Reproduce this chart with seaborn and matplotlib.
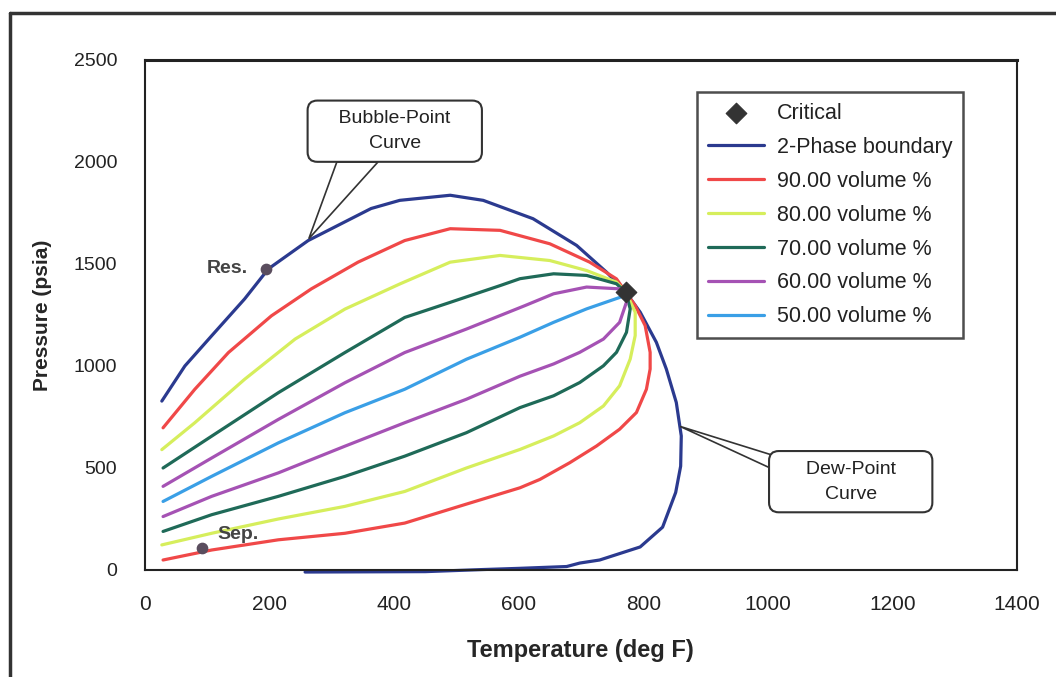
import numpy as np
import pandas as pd
import matplotlib.pyplot as plt
from matplotlib.lines import Line2D
from matplotlib.patches import Polygon
import seaborn as sns

# --- data (Temperature degF, Pressure psia) ---
bubble_T = [27, 64, 107, 160, 198, 262, 363, 409, 490, 543, 623, 693, 741, 772]
bubble_P = [828, 1000, 1148, 1329, 1476, 1615, 1772, 1812, 1837, 1812, 1722, 1591, 1460, 1361]
dew_T = [795, 821, 837, 853, 861, 860, 852, 831, 795, 730, 698, 677, 600, 540, 450, 257]
dew_P = [1264, 1116, 985, 821, 657, 509, 380, 210, 113, 49, 34, 17, 8, 2, -8, -10]

q90_T = [29, 80, 134, 203, 267, 342, 417, 490, 570, 650, 714, 757, 772,
         787, 803, 811, 811, 805, 789, 762, 725, 682, 634, 602, 516, 417, 321, 214, 107, 29]
q90_P = [697, 886, 1066, 1246, 1378, 1509, 1615, 1673, 1665, 1599, 1509, 1427, 1361,
         1296, 1198, 1067, 985, 886, 772, 690, 608, 526, 444, 403, 323, 230, 180, 148, 98, 49]

q80_T = [27, 80, 160, 241, 321, 409, 490, 570, 650, 709, 757, 772,
         787, 787, 779, 762, 736, 698, 656, 602, 516, 417, 321, 214, 107, 27]
q80_P = [590, 722, 935, 1132, 1279, 1402, 1509, 1542, 1517, 1468, 1411, 1361,
         1264, 1149, 1034, 903, 804, 722, 657, 591, 500, 385, 312, 250, 180, 123]

q70_T = [29, 107, 214, 321, 417, 490, 570, 602, 656, 709, 757, 772,
         779, 773, 757, 736, 698, 656, 602, 516, 417, 321, 214, 107, 29]
q70_P = [500, 656, 869, 1066, 1238, 1312, 1394, 1428, 1452, 1444, 1403, 1361,
         1280, 1165, 1067, 1001, 919, 854, 796, 673, 558, 459, 361, 271, 189]

q60_T = [29, 107, 214, 321, 417, 516, 610, 656, 709, 763, 772,
         773, 762, 736, 698, 656, 602, 516, 417, 321, 214, 107, 29]
q60_P = [410, 549, 738, 918, 1066, 1181, 1296, 1354, 1387, 1378, 1361,
         1313, 1214, 1132, 1067, 1010, 950, 837, 722, 607, 476, 361, 262]

q50_T = [29, 107, 214, 321, 417, 516, 602, 656, 709, 763, 772]
q50_P = [336, 459, 623, 771, 886, 1033, 1141, 1214, 1280, 1337, 1361]

critical_T = [772]
critical_P = [1361]
res_T, res_P = [195], [1476]
sep_T, sep_P = [91], [107]

series = [
    ("2-Phase boundary", bubble_T + dew_T, bubble_P + dew_P, "#2b3a8f"),
    ("90.00 volume %", q90_T, q90_P, "#f04848"),
    ("80.00 volume %", q80_T, q80_P, "#d6ee5c"),
    ("70.00 volume %", q70_T, q70_P, "#1f6a58"),
    ("60.00 volume %", q60_T, q60_P, "#a552b4"),
    ("50.00 volume %", q50_T, q50_P, "#3a9fe6"),
]

sns.set_style("white")
plt.rcParams['font.family'] = ['Liberation Sans', 'DejaVu Sans']

fig = plt.figure(figsize=(10.56, 6.77), dpi=100)
ax = fig.add_axes([145 / 1056, 107 / 677, 872 / 1056, 510 / 677])

for name, t, p, c in series:
    df = pd.DataFrame({"T": t, "P": p})
    sns.lineplot(data=df, x="T", y="P", sort=False, estimator=None, color=c,
                 lw=2.3, ax=ax, label=name, clip_on=False)

sns.scatterplot(x=critical_T, y=critical_P, marker="D", s=110, color="#333333",
                edgecolor="#333333", ax=ax, label="Critical", zorder=5)
ax.scatter(res_T + sep_T, res_P + sep_P, s=55, color="#5a4d5e", zorder=5)

ax.text(132, 1476, "Res.", fontsize=14, fontweight="bold", color="#444444",
        ha="center", va="center")
ax.text(149, 172, "Sep.", fontsize=14, fontweight="bold", color="#444444",
        ha="center", va="center")

# callouts: wedge pointer + rounded box
box = dict(boxstyle="round,pad=0.5", fc="white", ec="#333333", lw=1.5)
ax.add_patch(Polygon([(308, 2000), (374, 2000), (263, 1624)], closed=True,
                     fc="white", ec="#333333", lw=1.2, zorder=3))
ax.text(401, 2151, "    Bubble-Point    \nCurve", ha="center", va="center",
        multialignment="center", linespacing=1.6, fontsize=14, color="#222222",
        bbox=box, zorder=4)
ax.add_patch(Polygon([(1020, 551), (1020, 477), (859, 704)], closed=True,
                     fc="white", ec="#333333", lw=1.2, zorder=3))
ax.text(1133, 433, "     Dew-Point     \nCurve", ha="center", va="center",
        multialignment="center", linespacing=1.6, fontsize=14, color="#222222",
        bbox=box, zorder=4)

ax.set_xlim(0, 1400)
ax.set_ylim(0, 2500)
ax.set_xticks(range(0, 1401, 200))
ax.set_yticks(range(0, 2501, 500))
ax.tick_params(direction="inout", length=10, width=1.3, color="#222222",
               labelcolor="#222222")
ax.tick_params(axis="x", labelsize=15, pad=13)
ax.tick_params(axis="y", labelsize=14, pad=15)
for s in ax.spines.values():
    s.set_color("#222222")
    s.set_linewidth(1.5)
ax.spines["top"].set_linewidth(2.2)

ax.set_xlabel("Temperature (deg F)", fontsize=17, fontweight="bold", va="center")
ax.set_ylabel("Pressure (psia)", fontsize=15, fontweight="bold", va="center")
ax.xaxis.set_label_coords(0.499, -0.157)
ax.yaxis.set_label_coords(-0.118, 0.5)

handles, labels = ax.get_legend_handles_labels()
order = [labels.index("Critical")] + [labels.index(s[0]) for s in series]
leg = ax.legend([handles[i] for i in order], [labels[i] for i in order],
                loc="upper left", bbox_to_anchor=(0.633, 0.937), borderaxespad=0,
                fontsize=15.5, frameon=True, fancybox=False, edgecolor="#222222",
                handlelength=2.6, labelspacing=0.6, borderpad=0.5,
                handletextpad=0.6)
leg.get_frame().set_linewidth(1.8)
for txt in leg.get_texts():
    txt.set_color("#222222")

# outer border of the scanned figure
fig.add_artist(Line2D([10 / 1056, 10 / 1056], [0, 1 - 13 / 677], color="#333333", lw=2.5))
fig.add_artist(Line2D([10 / 1056, 1], [1 - 13 / 677, 1 - 13 / 677], color="#333333", lw=2.5))

fig.savefig("out.png", dpi=100)
